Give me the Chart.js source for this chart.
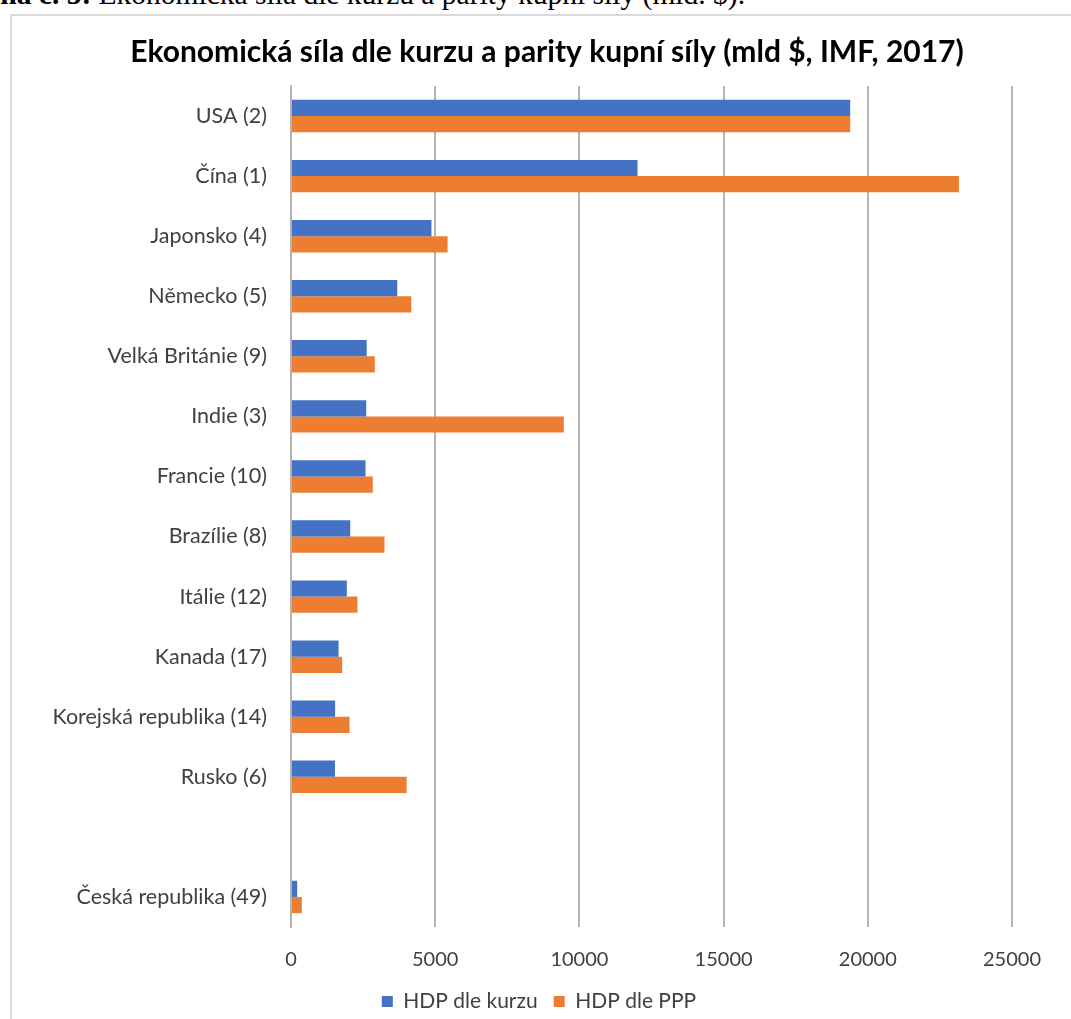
<!DOCTYPE html>
<html>
<head>
<meta charset="utf-8">
<script src="https://cdn.jsdelivr.net/npm/chart.js@4.4.1/dist/chart.umd.min.js"></script>
<style>
    body { margin: 0; background: #fff; overflow: hidden; }
    .caption {
        position: absolute; left: -62px; top: -22px; white-space: nowrap;
        font-family: "Liberation Serif", serif; font-size: 29.5px; color: #000;
    }
    .frame {
        position: absolute; left: 10px; top: 14px; width: 1080px; height: 1020px;
        border: 2px solid #d9d9d9; pointer-events: none;
    }
    .wrap { position: absolute; left: 0; top: 0; width: 1071px; height: 1019px; }
</style>
</head>
<body>
<div class="caption"><b>Příloha č. 5:</b> Ekonomická síla dle kurzu a parity kupní síly (mld. $).</div>
<div class="frame"></div>
<div class="wrap"><canvas id="gdpChart"></canvas></div>
<script>
// Countries (rank in brackets), empty row before Czech Republic as in source
const countries = [
    'USA (2)', 'Čína (1)', 'Japonsko (4)', 'Německo (5)', 'Velká Británie (9)',
    'Indie (3)', 'Francie (10)', 'Brazílie (8)', 'Itálie (12)', 'Kanada (17)',
    'Korejská republika (14)', 'Rusko (6)', '', 'Česká republika (49)'
];
// GDP by exchange rate (bn $)
const hdpKurz = [19390, 12015, 4870, 3685, 2625, 2610, 2585, 2055, 1935, 1650, 1530, 1525, null, 215];
// GDP by purchasing power parity (bn $)
const hdpPPP = [19390, 23160, 5430, 4170, 2905, 9460, 2835, 3240, 2305, 1775, 2030, 4010, null, 375];
const xTicks = [0, 5000, 10000, 15000, 20000, 25000];

const ctx = document.getElementById('gdpChart').getContext('2d');
const fontName = 'Lato, "Open Sans", sans-serif';
const gridGray = '#b4b4b4';

// Title and legend in the source are centred a bit right of the canvas middle
const shiftBoxes = {
    id: 'shiftBoxes',
    afterLayout(chart) {
        chart.titleBlock.left += 72;
        chart.legend.left += 56;
    }
};

const data = {
    labels: countries,
    datasets: [{
        label: 'HDP dle kurzu',
        data: hdpKurz,
        backgroundColor: '#4472C4',
        categoryPercentage: 0.54,
        barPercentage: 1
    }, {
        label: 'HDP dle PPP',
        data: hdpPPP,
        backgroundColor: '#ED7D31',
        categoryPercentage: 0.54,
        barPercentage: 1
    }]
};

const config = {
    type: 'bar',
    data: data,
    plugins: [shiftBoxes],
    options: {
        indexAxis: 'y',
        responsive: true,
        maintainAspectRatio: false,
        animation: false,
        layout: { padding: { top: 16, right: 59, bottom: -3, left: 10 } },
        scales: {
            x: {
                min: 0,
                max: 25000,
                afterBuildTicks: scale => { scale.ticks = xTicks.map(v => ({ value: v })); },
                afterFit: scale => { scale.height = 48; },
                grid: { color: gridGray, lineWidth: 2, drawTicks: false },
                border: { display: false },
                ticks: {
                    color: '#404040',
                    font: { family: fontName, size: 20 },
                    padding: 21,
                    callback: value => String(value)
                }
            },
            y: {
                afterFit: scale => { scale.width = 281; },
                grid: { display: false },
                border: { color: gridGray, width: 2 },
                ticks: { color: '#404040', font: { family: fontName, size: 21.5 }, padding: 16 }
            }
        },
        plugins: {
            legend: {
                position: 'bottom',
                labels: {
                    boxWidth: 11,
                    boxHeight: 11,
                    color: '#404040',
                    font: { family: fontName, size: 21 },
                    padding: 16
                }
            },
            title: {
                display: true,
                text: 'Ekonomická síla dle kurzu a parity kupní síly (mld $, IMF, 2017)',
                color: '#000',
                font: { family: fontName, size: 30, weight: 'bold' },
                padding: { top: 18, bottom: 16 }
            },
            tooltip: { enabled: false }
        }
    }
};

const gdpChart = new Chart(ctx, config);
</script>
</body>
</html>
